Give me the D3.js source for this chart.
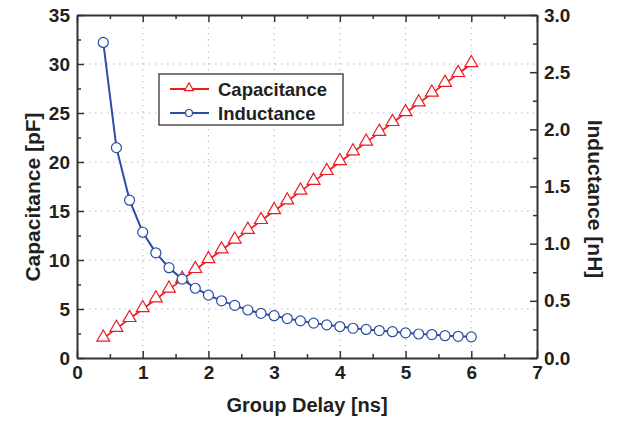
<!DOCTYPE html>
<html>
<head>
<meta charset="utf-8">
<script src="https://cdn.jsdelivr.net/npm/d3@7.9.0/dist/d3.min.js"></script>
<style>
  body { margin: 0; background: #fff; }
  text { font-family: "Liberation Sans", Arial, sans-serif; font-weight: bold; fill: #231f20; }
</style>
</head>
<body>
<div id="chart"></div>
<script>
// group delay (ns)
const delay = [0.4, 0.6, 0.8, 1.0, 1.2, 1.4, 1.6, 1.8, 2.0, 2.2, 2.4, 2.6, 2.8, 3.0, 3.2,
  3.4, 3.6, 3.8, 4.0, 4.2, 4.4, 4.6, 4.8, 5.0, 5.2, 5.4, 5.6, 5.8, 6.0];
// capacitance (pF)
const capacitance = [2, 3, 4, 5, 6, 7, 8, 9, 10, 11, 12, 13, 14, 15, 16,
  17, 18, 19, 20, 21, 22, 23, 24, 25, 26, 27, 28, 29, 30];
// inductance (nH)
const inductance = [2.76, 1.84, 1.38, 1.10, 0.92, 0.79, 0.69, 0.61, 0.55, 0.50, 0.46, 0.42, 0.39, 0.37, 0.345,
  0.325, 0.305, 0.29, 0.275, 0.26, 0.25, 0.24, 0.23, 0.22, 0.21, 0.205, 0.195, 0.19, 0.185];

const xTicks = [0, 1, 2, 3, 4, 5, 6, 7];
const leftTicks = [0, 5, 10, 15, 20, 25, 30, 35];
const rightTicks = [0, 0.5, 1.0, 1.5, 2.0, 2.5, 3.0];

const W = 618, H = 423;
const margin = { top: 15, right: 81, bottom: 65, left: 77 };
const width = W - margin.left - margin.right;
const height = H - margin.top - margin.bottom;

const red = "#ec1c24", blue = "#2b4da2", axisCol = "#333";

const svg = d3.select("#chart").append("svg")
  .attr("width", W).attr("height", H);
const g = svg.append("g").attr("transform", `translate(${margin.left},${margin.top})`);

const x = d3.scaleLinear().domain([0, 7]).range([0, width]);
const yL = d3.scaleLinear().domain([0, 35]).range([height, 0]);
const yR = d3.scaleLinear().domain([0, 3]).range([height, 0]);

// dotted grid
g.append("g").selectAll("line").data(xTicks.slice(1, -1)).join("line")
  .attr("x1", d => x(d)).attr("x2", d => x(d)).attr("y1", 0).attr("y2", height)
  .attr("stroke", "#bbb").attr("stroke-width", 1).attr("stroke-dasharray", "1.5,4.5");
g.append("g").selectAll("line").data(leftTicks.slice(1, -1)).join("line")
  .attr("y1", d => yL(d)).attr("y2", d => yL(d)).attr("x1", 0).attr("x2", width)
  .attr("stroke", "#bbb").attr("stroke-width", 1).attr("stroke-dasharray", "1.5,4.5");

// axes with inward ticks
function styleAxis(sel) {
  sel.selectAll("path").attr("stroke", axisCol).attr("stroke-width", 2);
  sel.selectAll("line").attr("stroke", axisCol).attr("stroke-width", 1.5);
  sel.selectAll("text").style("font-size", "19px").attr("fill", "#231f20");
}
function minorTicks(s) {
  s.select("path").remove();
  s.selectAll("line").attr("stroke", axisCol).attr("stroke-width", 1.5);
}
const minorX = d3.range(0.5, 7, 1);
const minorL = d3.range(2.5, 35, 5);
const minorR = d3.range(0.25, 3, 0.5);

const axBottom = g.append("g").attr("transform", `translate(0,${height})`)
  .call(d3.axisBottom(x).tickValues(xTicks).tickFormat(d3.format("d")).tickSizeInner(-7).tickSizeOuter(0).tickPadding(8));
styleAxis(axBottom);
g.append("g").attr("transform", `translate(0,${height})`)
  .call(d3.axisBottom(x).tickValues(minorX).tickFormat("").tickSizeInner(-4).tickSizeOuter(0))
  .call(minorTicks);

const axTop = g.append("g")
  .call(d3.axisTop(x).tickValues(xTicks).tickFormat("").tickSizeInner(-7).tickSizeOuter(0));
styleAxis(axTop);
g.append("g")
  .call(d3.axisTop(x).tickValues(minorX).tickFormat("").tickSizeInner(-4).tickSizeOuter(0))
  .call(minorTicks);

const axLeft = g.append("g")
  .call(d3.axisLeft(yL).tickValues(leftTicks).tickFormat(d3.format("d")).tickSizeInner(-7).tickSizeOuter(0).tickPadding(7));
styleAxis(axLeft);
g.append("g")
  .call(d3.axisLeft(yL).tickValues(minorL).tickFormat("").tickSizeInner(-4).tickSizeOuter(0))
  .call(minorTicks);

const axRight = g.append("g").attr("transform", `translate(${width},0)`)
  .call(d3.axisRight(yR).tickValues(rightTicks).tickFormat(d3.format(".1f")).tickSizeInner(-7).tickSizeOuter(0).tickPadding(7));
styleAxis(axRight);
g.append("g").attr("transform", `translate(${width},0)`)
  .call(d3.axisRight(yR).tickValues(minorR).tickFormat("").tickSizeInner(-4).tickSizeOuter(0))
  .call(minorTicks);

// axis titles
svg.append("text").attr("x", margin.left + width / 2).attr("y", 412)
  .attr("text-anchor", "middle").style("font-size", "20px").text("Group Delay [ns]");
svg.append("text").attr("transform", "translate(40,197) rotate(-90)")
  .attr("text-anchor", "middle").style("font-size", "21px").text("Capacitance [pF]");
svg.append("text").attr("transform", "translate(588,199) rotate(90)")
  .attr("text-anchor", "middle").style("font-size", "21px").text("Inductance [nH]");

// series
const capData = delay.map((d, i) => ({ x: d, y: capacitance[i] }));
const indData = delay.map((d, i) => ({ x: d, y: inductance[i] }));

const tri = d3.symbol().type(d3.symbolTriangle).size(72);

g.append("path").datum(capData)
  .attr("fill", "none").attr("stroke", red).attr("stroke-width", 1.8)
  .attr("d", d3.line().x(d => x(d.x)).y(d => yL(d.y)));
g.append("g").selectAll("path").data(capData).join("path")
  .attr("d", tri).attr("transform", d => `translate(${x(d.x)},${yL(d.y) - 1})`)
  .attr("fill", "#fff").attr("stroke", red).attr("stroke-width", 1.2);

g.append("path").datum(indData)
  .attr("fill", "none").attr("stroke", blue).attr("stroke-width", 2)
  .attr("d", d3.line().x(d => x(d.x)).y(d => yR(d.y)));
g.append("g").selectAll("circle").data(indData).join("circle")
  .attr("cx", d => x(d.x)).attr("cy", d => yR(d.y)).attr("r", 5)
  .attr("fill", "#fff").attr("stroke", blue).attr("stroke-width", 1.2);

// legend
const lg = svg.append("g").attr("transform", "translate(159,74)");
lg.append("rect").attr("width", 184).attr("height", 51)
  .attr("fill", "#fff").attr("stroke", "#222").attr("stroke-width", 1.2);
const items = [
  { name: "Capacitance", color: red, mark: "tri" },
  { name: "Inductance", color: blue, mark: "circle" }
];
items.forEach((it, i) => {
  const yy = 15 + i * 24;
  lg.append("line").attr("x1", 11).attr("x2", 50).attr("y1", yy).attr("y2", yy)
    .attr("stroke", it.color).attr("stroke-width", 1.8);
  if (it.mark === "tri") {
    lg.append("path").attr("d", d3.symbol().type(d3.symbolTriangle).size(35))
      .attr("transform", `translate(30,${yy - 1})`)
      .attr("fill", "#fff").attr("stroke", it.color).attr("stroke-width", 1.2);
  } else {
    lg.append("circle").attr("cx", 30).attr("cy", yy).attr("r", 3.5)
      .attr("fill", "#fff").attr("stroke", it.color).attr("stroke-width", 1.2);
  }
  lg.append("text").attr("x", 59).attr("y", yy + 6.5).style("font-size", "18.5px").text(it.name);
});
</script>
</body>
</html>
